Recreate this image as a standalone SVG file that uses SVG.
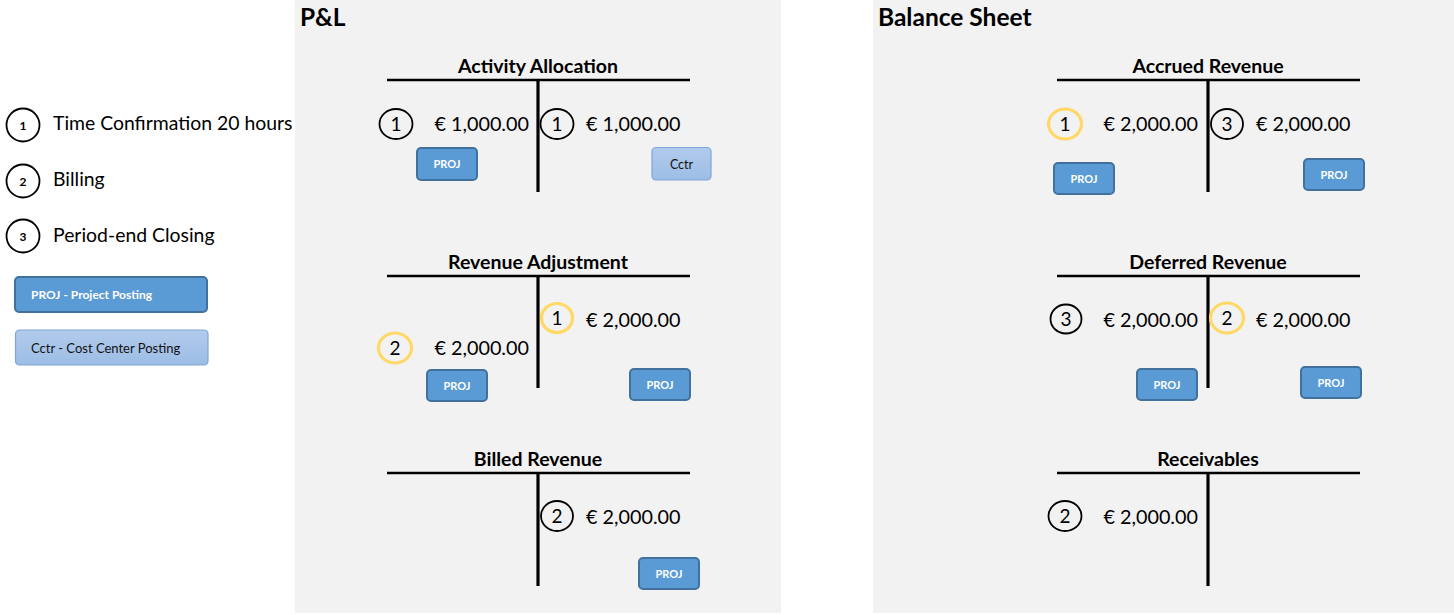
<svg xmlns="http://www.w3.org/2000/svg" width="1454" height="615" viewBox="0 0 1454 615">
<defs>
<linearGradient id="lb" x1="0" y1="0" x2="0" y2="1">
<stop offset="0" stop-color="#b1cbeb"/>
<stop offset="1" stop-color="#9dbde6"/>
</linearGradient>
</defs>
<style>
text{font-family:Lato,"Liberation Sans",sans-serif;fill:#000}
.h{font-size:24.5px;font-weight:bold}
.t{font-size:19.5px;font-weight:bold;text-anchor:middle}
.amt{font-size:19.8px}
.num{font-size:19px;text-anchor:middle}
.lg{font-size:19.4px}
.ln{font-size:12px;font-weight:bold;text-anchor:middle}
.c{fill:none;stroke:#000;stroke-width:1.8}
.y{fill:none;stroke:#ffd966;stroke-width:3.2}
.hl{stroke:#000;stroke-width:2.5}
.vl{stroke:#000;stroke-width:3.2}
.proj{fill:#5b9bd5;stroke:#41719c;stroke-width:2}
.cctr{fill:url(#lb);stroke:#7ea6d8;stroke-width:1.2}
.pt{font-size:11px;font-weight:bold;fill:#fff;text-anchor:middle}
.ct{font-size:12.5px;fill:#111;text-anchor:middle}
</style>
<rect x="0" y="0" width="1454" height="615" fill="#fff"/>
<rect x="295" y="0" width="486" height="613" fill="#f2f2f2"/>
<rect x="873" y="0" width="581" height="613" fill="#f2f2f2"/>

<g id="legend">
<ellipse class="c" cx="23" cy="125" rx="16.5" ry="16.5"/><text class="ln" x="23" y="130">1</text>
<text class="lg" x="53" y="130">Time Confirmation 20 hours</text>
<ellipse class="c" cx="23" cy="181" rx="16.5" ry="16.5"/><text class="ln" x="23" y="186">2</text>
<text class="lg" x="53" y="186">Billing</text>
<ellipse class="c" cx="23" cy="236" rx="16.5" ry="16.5"/><text class="ln" x="23" y="241">3</text>
<text class="lg" x="53" y="242">Period-end Closing</text>
<rect class="proj" x="15" y="277" width="192" height="35" rx="4"/>
<text x="31" y="299" style="font-size:12px;font-weight:bold;fill:#fff">PROJ - Project Posting</text>
<rect class="cctr" x="15.5" y="330" width="192.5" height="35" rx="4"/>
<text x="31" y="353" style="font-size:13px;fill:#111">Cctr - Cost Center Posting</text>
</g>

<g id="pl-title"><text class="h" x="300" y="26">P&amp;L</text></g>
<g id="bs-title"><text class="h" x="878" y="26">Balance Sheet</text></g>

<g id="activity-allocation">
<text class="t" x="538" y="73">Activity Allocation</text>
<line class="hl" x1="387" y1="80" x2="690" y2="80"/>
<line class="vl" x1="538" y1="80" x2="538" y2="192"/>
<ellipse class="c" cx="396" cy="124" rx="16.5" ry="15"/><text class="num" x="396" y="131">1</text>
<text class="amt" x="529" y="131" text-anchor="end">€ 1,000.00</text>
<ellipse class="c" cx="557" cy="124" rx="16.5" ry="15"/><text class="num" x="557" y="131">1</text>
<text class="amt" x="586" y="131">€ 1,000.00</text>
<rect class="proj" x="417" y="148" width="60" height="32" rx="4"/><text class="pt" x="447" y="168">PROJ</text>
<rect class="cctr" x="652" y="147.5" width="59" height="32.5" rx="4"/><text class="ct" x="681.5" y="169">Cctr</text>
</g>

<g id="revenue-adjustment">
<text class="t" x="538" y="269">Revenue Adjustment</text>
<line class="hl" x1="387" y1="276" x2="690" y2="276"/>
<line class="vl" x1="538" y1="276" x2="538" y2="388"/>
<ellipse class="y" cx="557" cy="318" rx="15.5" ry="14.5"/><text class="num" x="557" y="325">1</text>
<text class="amt" x="586" y="327">€ 2,000.00</text>
<ellipse class="y" cx="395" cy="348" rx="16.5" ry="15"/><text class="num" x="395" y="355">2</text>
<text class="amt" x="529" y="355" text-anchor="end">€ 2,000.00</text>
<rect class="proj" x="427" y="370" width="60" height="31" rx="4"/><text class="pt" x="457" y="390">PROJ</text>
<rect class="proj" x="630" y="369" width="60" height="31" rx="4"/><text class="pt" x="660" y="389">PROJ</text>
</g>

<g id="billed-revenue">
<text class="t" x="538" y="466">Billed Revenue</text>
<line class="hl" x1="387" y1="473" x2="690" y2="473"/>
<line class="vl" x1="538" y1="473" x2="538" y2="586"/>
<ellipse class="c" cx="557" cy="516" rx="16" ry="15"/><text class="num" x="557" y="523">2</text>
<text class="amt" x="586" y="524">€ 2,000.00</text>
<rect class="proj" x="639" y="558" width="60" height="31" rx="4"/><text class="pt" x="669" y="578">PROJ</text>
</g>

<g id="accrued-revenue">
<text class="t" x="1208" y="73">Accrued Revenue</text>
<line class="hl" x1="1057" y1="80" x2="1360" y2="80"/>
<line class="vl" x1="1208" y1="80" x2="1208" y2="192"/>
<ellipse class="y" cx="1065" cy="124" rx="16.5" ry="15"/><text class="num" x="1065" y="131">1</text>
<text class="amt" x="1198" y="131" text-anchor="end">€ 2,000.00</text>
<ellipse class="c" cx="1227" cy="124" rx="16" ry="15"/><text class="num" x="1227" y="131">3</text>
<text class="amt" x="1256" y="131">€ 2,000.00</text>
<rect class="proj" x="1054" y="163" width="60" height="31" rx="4"/><text class="pt" x="1084" y="183">PROJ</text>
<rect class="proj" x="1304" y="159" width="60" height="31" rx="4"/><text class="pt" x="1334" y="179">PROJ</text>
</g>

<g id="deferred-revenue">
<text class="t" x="1208" y="269">Deferred Revenue</text>
<line class="hl" x1="1057" y1="276" x2="1360" y2="276"/>
<line class="vl" x1="1208" y1="276" x2="1208" y2="388"/>
<ellipse class="c" cx="1066" cy="319" rx="15.5" ry="14.5"/><text class="num" x="1066" y="326">3</text>
<text class="amt" x="1198" y="327" text-anchor="end">€ 2,000.00</text>
<ellipse class="y" cx="1227" cy="318" rx="16.5" ry="15"/><text class="num" x="1227" y="325">2</text>
<text class="amt" x="1256" y="327">€ 2,000.00</text>
<rect class="proj" x="1137" y="369" width="60" height="31" rx="4"/><text class="pt" x="1167" y="389">PROJ</text>
<rect class="proj" x="1301" y="367" width="60" height="31" rx="4"/><text class="pt" x="1331" y="387">PROJ</text>
</g>

<g id="receivables">
<text class="t" x="1208" y="466">Receivables</text>
<line class="hl" x1="1057" y1="473" x2="1360" y2="473"/>
<line class="vl" x1="1208" y1="473" x2="1208" y2="586"/>
<ellipse class="c" cx="1065" cy="516" rx="16.5" ry="15"/><text class="num" x="1065" y="523">2</text>
<text class="amt" x="1198" y="524" text-anchor="end">€ 2,000.00</text>
</g>
</svg>
